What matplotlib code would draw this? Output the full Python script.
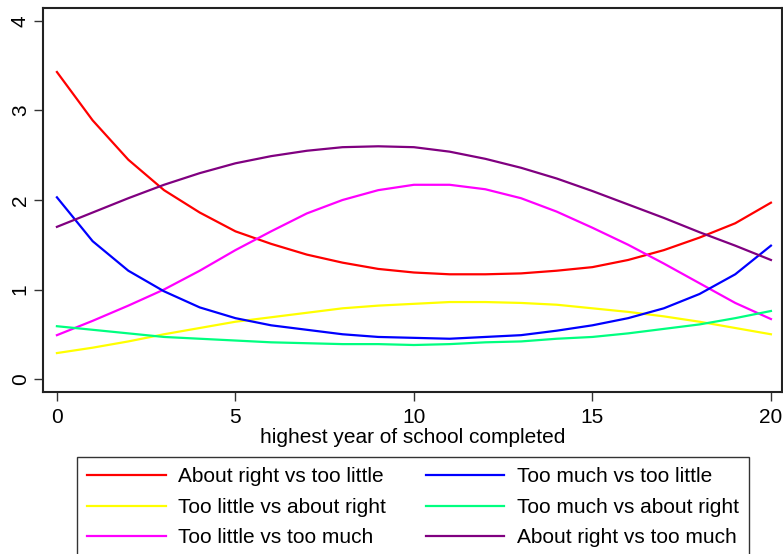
import numpy as np
from matplotlib import pyplot as plt

"""
Predicted odds ratios by years of schooling, six comparisons.
"""

plt.rcParams["font.family"] = ["Liberation Sans", "DejaVu Sans"]

years = np.arange(0, 21)

about_right_vs_too_little = [3.43, 2.89, 2.45, 2.11, 1.86, 1.65, 1.51, 1.39, 1.30, 1.23, 1.19,
                             1.17, 1.17, 1.18, 1.21, 1.25, 1.33, 1.44, 1.58, 1.74, 1.97]
too_much_vs_too_little = [2.03, 1.54, 1.21, 0.98, 0.80, 0.68, 0.60, 0.55, 0.50, 0.47, 0.46,
                          0.45, 0.47, 0.49, 0.54, 0.60, 0.68, 0.79, 0.95, 1.17, 1.49]
too_little_vs_about_right = [0.29, 0.35, 0.42, 0.50, 0.57, 0.64, 0.69, 0.74, 0.79, 0.82, 0.84,
                             0.86, 0.86, 0.85, 0.83, 0.79, 0.75, 0.70, 0.64, 0.57, 0.50]
too_much_vs_about_right = [0.59, 0.55, 0.51, 0.47, 0.45, 0.43, 0.41, 0.40, 0.39, 0.39, 0.38,
                           0.39, 0.41, 0.42, 0.45, 0.47, 0.51, 0.56, 0.61, 0.68, 0.76]
too_little_vs_too_much = [0.49, 0.65, 0.82, 1.00, 1.21, 1.44, 1.65, 1.85, 2.00, 2.11, 2.17,
                          2.17, 2.12, 2.02, 1.87, 1.69, 1.50, 1.29, 1.07, 0.85, 0.67]
about_right_vs_too_much = [1.70, 1.86, 2.02, 2.17, 2.30, 2.41, 2.49, 2.55, 2.59, 2.60, 2.59,
                           2.54, 2.46, 2.36, 2.24, 2.10, 1.95, 1.80, 1.64, 1.49, 1.33]

# legend order is row-wise (two columns), matplotlib fills column-wise
series = [
    ("About right vs too little", about_right_vs_too_little, "#ff0000"),
    ("Too little vs about right", too_little_vs_about_right, "#ffff00"),
    ("Too little vs too much", too_little_vs_too_much, "#ff00ff"),
    ("Too much vs too little", too_much_vs_too_little, "#0000ff"),
    ("Too much vs about right", too_much_vs_about_right, "#00ff80"),
    ("About right vs too much", about_right_vs_too_much, "#800080"),
]

fig = plt.figure(figsize=(7.83, 5.54), dpi=100)
ax = fig.add_axes([43 / 783, 1 - 392 / 554, 739 / 783, 384 / 554])

for label, values, color in series:
    ax.plot(years, values, color=color, lw=1.6, label=label)

ax.set_xlim(-0.39, 20.31)
ax.set_ylim(-0.145, 4.145)
ax.set_xticks([0, 5, 10, 15, 20])
ax.set_yticks([0, 1, 2, 3, 4])
ax.tick_params(axis="both", direction="out", length=6.5, width=1, color="#333333",
               labelsize=15, pad=5)
ax.tick_params(axis="y", pad=3)
for lbl in ax.get_yticklabels():
    lbl.set_rotation(90)
    lbl.set_va("center")
for spine in ax.spines.values():
    spine.set_color("#222222")
    spine.set_linewidth(1.5)
ax.set_xlabel("highest year of school completed", fontsize=15, labelpad=1)

# box runs past the bottom edge of the picture, as in the original export
leg = fig.legend(loc="upper left", bbox_to_anchor=(77 / 783, 0.0, 672 / 783, 1 - 457 / 554),
                 mode="expand", ncol=2, fontsize=15, frameon=True, fancybox=False,
                 edgecolor="black", borderaxespad=0, handlelength=3.75, handletextpad=0.6,
                 labelspacing=0.55, borderpad=0.5)
leg.get_frame().set_linewidth(1.0)

fig.savefig("out.png", dpi=100)
